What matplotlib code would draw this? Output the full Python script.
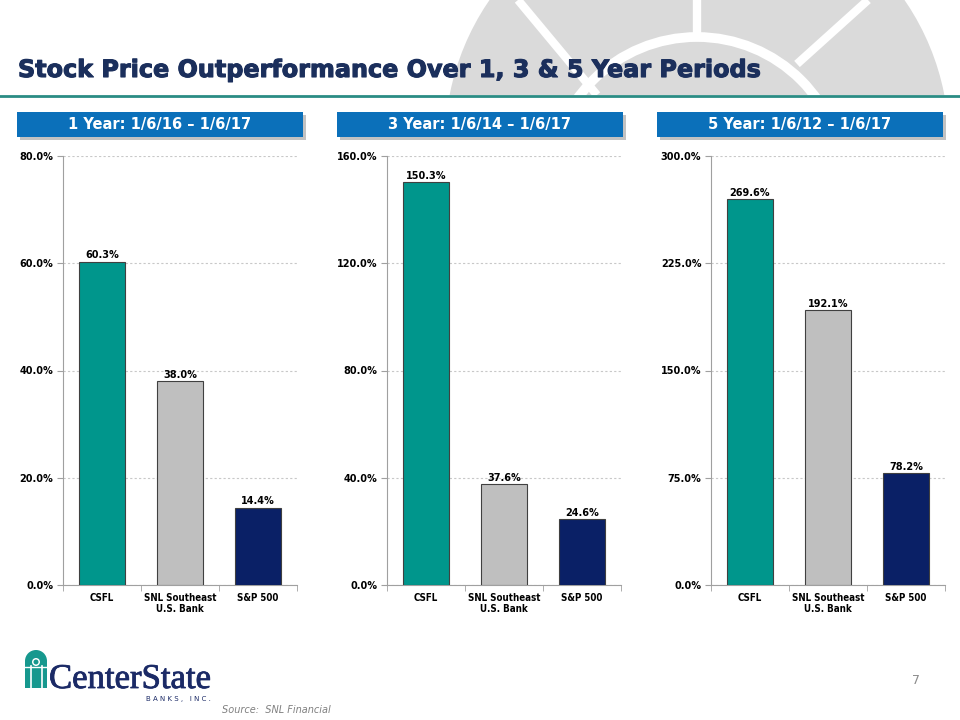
import matplotlib
matplotlib.use('Agg')
import matplotlib.pyplot as plt
import matplotlib.patheffects as pe
from matplotlib.patches import Rectangle, Circle, Wedge
from matplotlib.ticker import FuncFormatter, FixedLocator

# Chart data
categories = ['CSFL', 'SNL Southeast\nU.S. Bank', 'S&P 500']
periods = ['1 Year: 1/6/16 \u2013 1/6/17', '3 Year: 1/6/14 \u2013 1/6/17',
           '5 Year: 1/6/12 \u2013 1/6/17']
one_year = [60.3, 38.0, 14.4]
three_year = [150.3, 37.6, 24.6]
five_year = [269.6, 192.1, 78.2]
y_max = [80, 160, 300]
y_step = [20, 40, 75]

bar_colors = ['#00968C', '#BFBFBF', '#0A2066']
title_color = '#1B2F5C'
box_color = '#0B70BA'

plt.rcParams['font.family'] = ['DejaVu Sans']
fig = plt.figure(figsize=(9.6, 7.2), dpi=100)

# Background decoration in pixel coordinates
bg = fig.add_axes([0, 0, 1, 1], zorder=-1)
bg.set_xlim(0, 960)
bg.set_ylim(720, 0)
bg.axis('off')
clip = Rectangle((0, 0), 960, 95, transform=bg.transData)
arch = Circle((697, 143), 252, facecolor='#DADADA', edgecolor='none')
bg.add_patch(arch)
arch.set_clip_path(clip)
ring = Circle((697, 184), 147, facecolor='none', edgecolor='white', lw=7)
bg.add_patch(ring)
ring.set_clip_path(clip)
for xs, ys in [([697, 697], [0, 37]), ([518, 597], [0, 95]), ([868, 797], [0, 64])]:
    ln, = bg.plot(xs, ys, color='white', lw=6, solid_capstyle='butt')
    ln.set_clip_path(clip)
bg.plot([0, 960], [96, 96], color='#2A8C84', lw=2)

# Title
bg.text(18, 70, 'Stock Price Outperformance Over 1, 3 & 5 Year Periods',
        fontsize=17.2, fontweight='bold', color=title_color, va='center', ha='left',
        path_effects=[pe.withStroke(linewidth=0.8, foreground=title_color)])

# Header boxes
box_x = [17, 337, 657]
for bx, label in zip(box_x, periods):
    bg.add_patch(Rectangle((bx + 3, 115), 286, 25, facecolor='#9A9A9A', edgecolor='none', alpha=0.6))
    bg.add_patch(Rectangle((bx, 112), 286, 25, facecolor=box_color, edgecolor='none'))
    bg.text(bx + 143, 125, label, color='white', fontsize=10.5, fontweight='bold',
            ha='center', va='center')

# Logo
bg.add_patch(Rectangle((25, 661), 22, 27, facecolor='#16988E', edgecolor='none'))
bg.add_patch(Wedge((36, 661), 11, 180, 360, facecolor='#16988E', edgecolor='none'))
bg.add_patch(Circle((36, 662), 4, facecolor='white', edgecolor='none'))
bg.add_patch(Circle((36, 662), 2.5, facecolor='#16988E', edgecolor='none'))
for lx in [30.5, 41.5]:
    bg.plot([lx, lx], [666, 688], color='white', lw=1.2)
bg.plot([25, 47], [667, 667], color='white', lw=1.0)
bg.text(49, 688, 'CenterState', family='Liberation Serif', fontsize=25,
        color='#1B2A66', ha='left', va='baseline',
        path_effects=[pe.withStroke(linewidth=0.6, foreground='#1B2A66')])
bg.text(211, 699, 'B A N K S ,   I N C .', fontsize=5, color='#1B2A66',
        ha='right', va='center')
bg.text(222, 710, 'Source:  SNL Financial', fontsize=7, style='italic',
        color='#808080', ha='left', va='center')
bg.text(912, 681, '7', fontsize=9, color='#8C8C8C', ha='left', va='center')

# Bar panels
series = [one_year, three_year, five_year]
lefts = [63, 387, 711]
x = list(range(len(categories)))
for i in range(3):
    ax = fig.add_axes([lefts[i] / 960, 1 - 585 / 720, 234 / 960, 429 / 720])
    bars = ax.bar(x, series[i], width=0.58, color=bar_colors,
                  edgecolor='#404040', linewidth=0.8, zorder=3)
    for xi, v in zip(x, series[i]):
        ax.annotate('%.1f%%' % v, (xi, v), xytext=(0, 2.5), textcoords='offset points',
                    ha='center', va='baseline', fontsize=7, fontweight='bold',
                    color='black', zorder=4)
    ax.set_xlim(-0.5, 2.5)
    ax.set_ylim(0, y_max[i])
    ticks = list(range(0, y_max[i] + 1, y_step[i]))
    ax.yaxis.set_major_locator(FixedLocator(ticks))
    ax.yaxis.set_major_formatter(FuncFormatter(lambda v, p: '%.1f%%' % v))
    ax.set_xticks(x)
    ax.set_xticklabels(categories, fontsize=7, fontweight='bold', linespacing=1.1,
                       fontstretch='condensed')
    ax.set_xticks([-0.5, 0.5, 1.5, 2.5], minor=True)
    ax.tick_params(axis='x', which='major', length=0, pad=6)
    ax.tick_params(axis='x', which='minor', length=4, color='#A0A0A0')
    ax.tick_params(axis='y', length=4, color='#A0A0A0', pad=3)
    for lab in ax.get_yticklabels():
        lab.set_fontsize(7)
        lab.set_fontweight('bold')
    ax.grid(axis='y', linestyle=(0, (2, 2)), color='#C8C8C8', lw=0.8, zorder=0)
    for s in ['top', 'right']:
        ax.spines[s].set_visible(False)
    for s in ['left', 'bottom']:
        ax.spines[s].set_color('#A0A0A0')
    ax.set_facecolor('none')

fig.savefig('out.png', dpi=100)
